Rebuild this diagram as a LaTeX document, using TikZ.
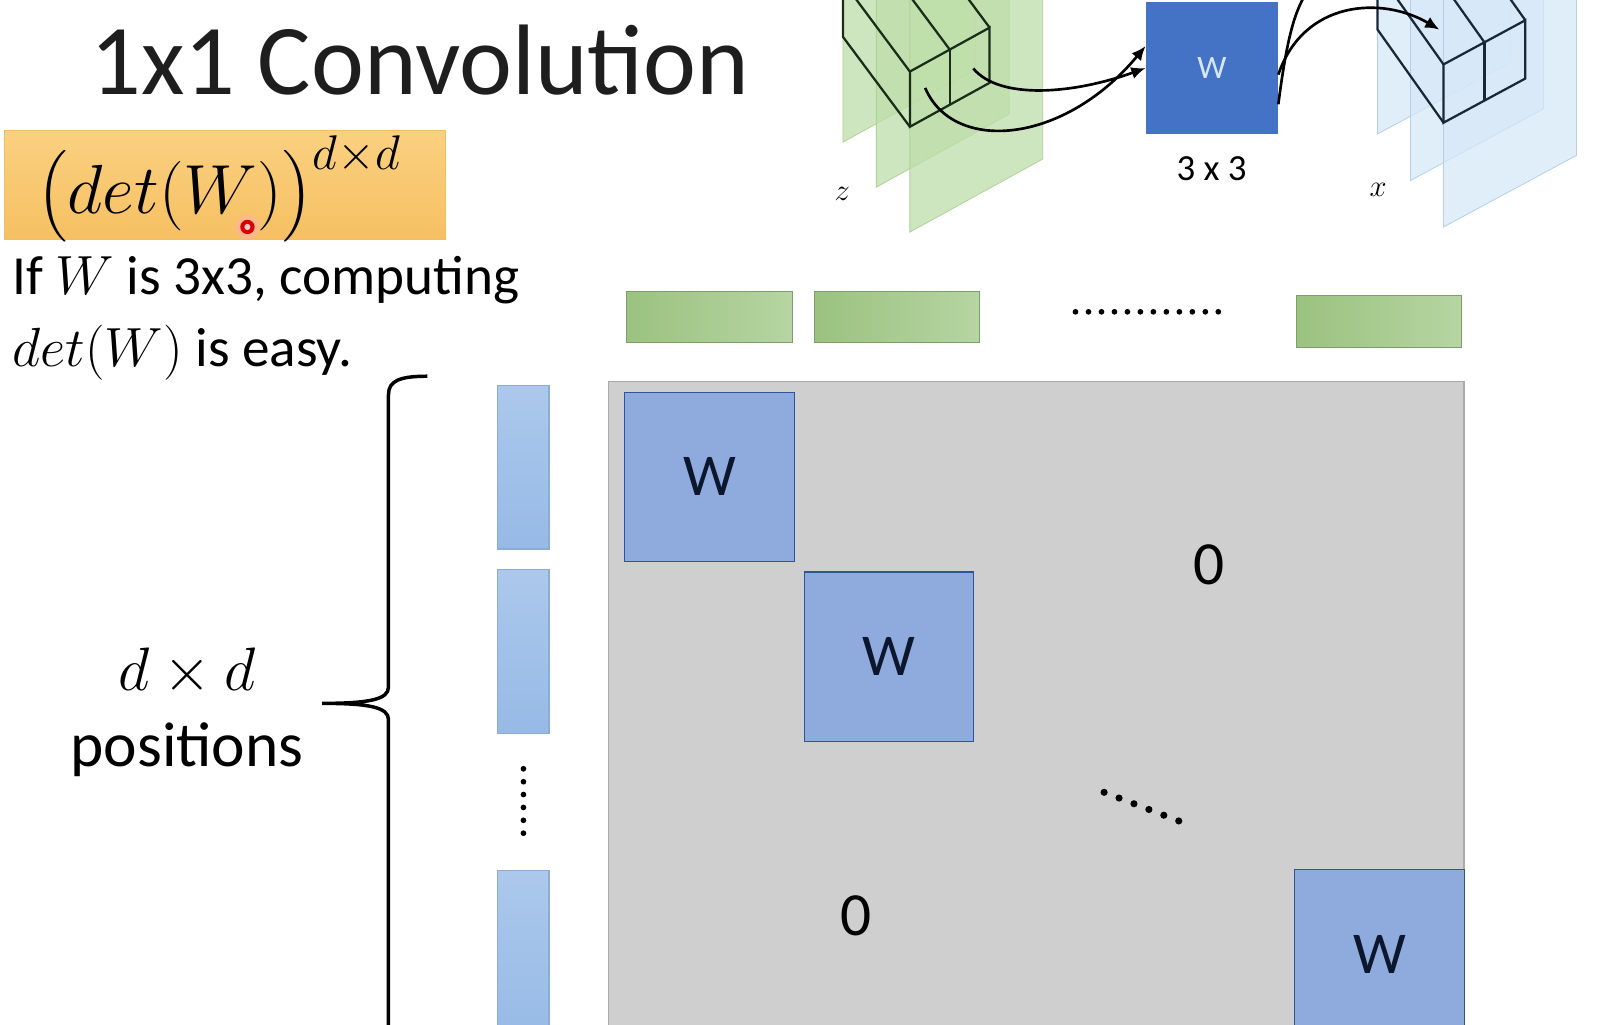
\RequirePackage{fix-cm}
\documentclass[tikz,border=0pt]{standalone}
\usepackage{amsmath}
\usepackage{fontspec}
\setmainfont{Carlito}
\usepackage{tikz}
\usetikzlibrary{arrows.meta}

\begin{document}
\begin{tikzpicture}[x=0.5pt,y=0.5pt,yscale=-1,xscale=1,
  zplane/.style={draw={rgb,255:red,176;green,210;blue,150},fill={rgb,255:red,190;green,222;blue,170},fill opacity=0.75,line width=0.4pt},
  xplane/.style={draw={rgb,255:red,180;green,208;blue,232},fill={rgb,255:red,214;green,232;blue,248},fill opacity=0.75,line width=0.4pt},
  zline/.style={draw={rgb,255:red,25;green,45;blue,25},line width=1.1pt},
  xline/.style={draw={rgb,255:red,25;green,40;blue,55},line width=1.1pt},
  flow/.style={line width=1.3pt,-{Latex[length=7pt,width=6pt]}},
  gbar/.style={draw={rgb,255:red,125;green,160;blue,105},left color={rgb,255:red,155;green,194;blue,128},right color={rgb,255:red,182;green,213;blue,162},line width=0.5pt},
  bbar/.style={draw={rgb,255:red,140;green,172;blue,212},top color={rgb,255:red,172;green,200;blue,236},bottom color={rgb,255:red,150;green,186;blue,230},line width=0.5pt},
  wblock/.style={draw={rgb,255:red,47;green,85;blue,151},fill={rgb,255:red,143;green,170;blue,220},line width=0.5pt,minimum width=83pt,minimum height=83pt,inner sep=0pt,font=\fontsize{29}{34}\selectfont,text={rgb,255:red,12;green,22;blue,45}},
  dotmark/.style={fill=black}
]
\useasboundingbox (0,0) rectangle (1568,1002);
\begin{scope}
\clip (0,0) rectangle (1568,1002);

%Shape: z planes
\foreach \k in {2,1,0} {
  \draw[zplane] ({890-32.75*\k},{227-44*\k}) -- ++(130,-71.5) -- ++(0,-300) -- ++(-130,71.5) -- cycle;
}
%Shape: x planes
\foreach \k in {2,1,0} {
  \draw[xplane] ({1412-32.25*\k},{222-45.5*\k}) -- ++(130,-70) -- ++(0,-300) -- ++(-130,70) -- cycle;
}

%Straight Lines: z cube
\draw[zline] (890,124) -- (968,81) -- (968,27) -- (890,70) -- cycle;
\draw[zline] (929,102.5) -- (929,48.5);
\draw[zline] (890,124) -- ++(-65.5,-88) -- ++(0,-70);
\draw[zline] (890,70) -- ++(-65.5,-88);
\draw[zline] (929,48.5) -- ++(-65.5,-88);
\draw[zline] (968,27) -- ++(-65.5,-88);
%Straight Lines: x cube
\draw[xline] (1412,120) -- (1492,76.8) -- (1492,19.8) -- (1412,63) -- cycle;
\draw[xline] (1452,98.4) -- (1452,41.4);
\draw[xline] (1412,120) -- ++(-64.5,-91) -- ++(0,-70);
\draw[xline] (1412,63) -- ++(-64.5,-91);
\draw[xline] (1452,41.4) -- ++(-64.5,-91);
\draw[xline] (1492,19.8) -- ++(-64.5,-91);

%Shape: kernel
\node (kernel) [fill={rgb,255:red,68;green,114;blue,196},minimum width=64.5pt,minimum height=64.5pt,inner sep=0pt,font=\fontsize{16}{19}\selectfont,text={rgb,255:red,214;green,230;blue,248}] at (1185.5,66.5) {W};

\coordinate (zin1) at (952,67);
\coordinate (zin2) at (905,86);
\coordinate (xout1) at (1408,29);
\coordinate (xout2) at (1292,-25);

%Curve Lines
\draw[flow] (zin1) .. controls (978,98) and (1050,92) .. (kernel.west);
\draw[flow] (zin2) .. controls (932,150) and (1040,142) .. ([yshift=-10.75pt]kernel.west);
\draw[flow] ([yshift=3.25pt]kernel.east) .. controls (1275,0) and (1352,-4) .. (xout1);
\draw[line width=1.3pt] ([yshift=17.75pt]kernel.east) .. controls (1262,12) and (1272,-2) .. (xout2);

% Text Node
\node (kdim) [font=\fontsize{18}{22}\selectfont] at (1185,165) {3 x 3};
% Text Node
\node (zlab) [font=\fontsize{15}{18}\selectfont] at (824,190) {$z$};
% Text Node
\node (xlab) [font=\fontsize{15}{18}\selectfont] at (1348,186) {$x$};

% Text Node
\node (title) [anchor=base west,inner sep=0pt,font=\fontsize{49}{59}\selectfont,text={rgb,255:red,30;green,30;blue,30}] at (88,92) {1x1 Convolution};

%Shape: Rectangle
\draw[draw={rgb,255:red,240;green,190;blue,100},top color={rgb,255:red,250;green,208;blue,128},bottom color={rgb,255:red,246;green,192;blue,98},line width=0.4pt] (4,128) rectangle (436,234);
% Text Node
\node (detpow) [anchor=base west,inner sep=0pt,font=\fontsize{34}{40}\selectfont] at (36,209) {$\bigl(det(W)\bigr)^{d\times d}$};
%Shape: pointer
\fill[red!30,opacity=0.5] (242,222) circle (12);
\fill[red!85!black] (242,222) circle (7);
\fill[red!20] (242,222) circle (3);

% Text Node
\node (easy1) [anchor=base west,inner sep=0pt,font=\fontsize{27}{32}\selectfont] at (12,288) {If $W$ is 3x3, computing};
% Text Node
\node (easy2) [anchor=base west,inner sep=0pt,font=\fontsize{27}{32}\selectfont] at (12,358) {$det(W)$ is easy.};

%Shape: Brace
\draw[line width=1.7pt] (418,368) .. controls (392,368) and (380,372) .. (380,386) -- (380,672) .. controls (380,684) and (362,688) .. (315,688) .. controls (362,688) and (380,692) .. (380,704) -- (380,1010);
% Text Node
\node (dd) [anchor=base,inner sep=0pt,font=\fontsize{30}{36}\selectfont] at (183,675) {$d\times d$};
% Text Node
\node (pos) [anchor=base,inner sep=0pt,font=\fontsize{31}{37}\selectfont] at (183,750) {positions};

%Shape: green row
\draw[gbar] (613,285) rectangle (775,335);
\draw[gbar] (797,285) rectangle (958,335);
\draw[gbar] (1268,289) rectangle (1430,340);
\foreach \i in {0,...,11} \fill[dotmark] ({1052+\i*12.7},305) circle (2.8);

%Shape: blue column
\draw[bbar] (487,377) rectangle (537,537);
\draw[bbar] (487,557) rectangle (537,717);
\draw[bbar] (487,851) rectangle (537,1020);
\foreach \i in {0,...,5} \fill[dotmark] (512,{752+\i*12.6}) circle (2.8);

%Shape: big matrix
\draw[draw={rgb,255:red,170;green,170;blue,170},fill={rgb,255:red,207;green,207;blue,207},line width=0.6pt] (595,373) rectangle (1432,1030);
\node (w1) [wblock] at (694,466.5) {W};
\node (w2) [wblock] at (869.5,642.5) {W};
\node (w3) [wblock] at (1349.5,933.5) {W};
% Text Node
\node (zero1) [font=\fontsize{30}{36}\selectfont] at (1183,552) {0};
% Text Node
\node (zero2) [font=\fontsize{30}{36}\selectfont] at (837,896) {0};
\foreach \i in {0,...,5} \fill[dotmark] ({1080+\i*14.6},{775+\i*5.6}) circle (3.5);
\end{scope}
\end{tikzpicture}
\end{document}
